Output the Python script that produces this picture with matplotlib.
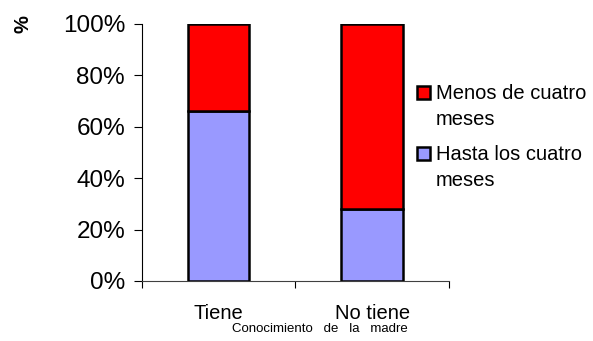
import matplotlib
matplotlib.use("Agg")
import matplotlib.pyplot as plt
from matplotlib.patches import Rectangle
from matplotlib.legend_handler import HandlerPatch
from matplotlib.ticker import FuncFormatter

plt.rcParams["font.family"] = ["Liberation Sans", "DejaVu Sans"]

# data (percent of mothers per group)
categories = ["Tiene", "No tiene"]
hasta_cuatro = [66, 28]
menos_cuatro = [34, 72]
series_labels = ["Menos de cuatro\nmeses", "Hasta los cuatro\nmeses"]
y_ticks = [0, 20, 40, 60, 80, 100]

RED = "#FF0000"
LAVENDER = "#9999FF"


def top_square(legend, orig_handle, xdescent, ydescent, width, height, fontsize):
    # put the legend square next to the first line of the wrapped label
    return Rectangle((-xdescent, -ydescent + 0.7 * fontsize), width, height)


fig = plt.figure(figsize=(5.93, 3.41), dpi=100)
ax = fig.add_axes([0.239, 0.176, 0.518, 0.754])

x = list(range(len(categories)))
b1 = ax.bar(x, hasta_cuatro, width=0.4, color=LAVENDER, edgecolor="black", linewidth=1.8)
b2 = ax.bar(x, menos_cuatro, width=0.4, bottom=hasta_cuatro, color=RED,
            edgecolor="black", linewidth=1.8)

ax.set_xlim(-0.5, len(categories) - 0.5)
ax.set_ylim(0, 100)
ax.set_yticks(y_ticks)
ax.yaxis.set_major_formatter(FuncFormatter(lambda v, p: f"{v:.0f}%"))
ax.tick_params(axis="y", labelsize=17.5, length=6, width=0.8, pad=6)

# ticks at category boundaries, labels at category centres
ax.set_xticks([i - 0.5 for i in range(len(categories) + 1)])
ax.set_xticklabels([])
ax.set_xticks(x, minor=True)
ax.set_xticklabels(categories, minor=True)
ax.tick_params(axis="x", which="major", length=5, width=0.8)
ax.tick_params(axis="x", which="minor", length=0, labelsize=14.5, pad=16.5)

for s in ["top", "right"]:
    ax.spines[s].set_visible(False)
ax.spines["left"].set_linewidth(0.8)
ax.spines["bottom"].set_linewidth(0.8)
ax.spines["bottom"].set_color("#404040")

fig.text(0.54, 0.036, "Conocimiento   de   la   madre", fontsize=9.5, ha="center", va="center")
fig.text(0.038, 0.928, "%", fontsize=14.5, fontweight="bold", rotation=90,
         ha="center", va="center")

h_red = b2.patches[0]
h_lav = b1.patches[0]
leg = ax.legend([h_red, h_lav], series_labels, loc="upper left",
                bbox_to_anchor=(417 / 593, 1 - 84 / 341), bbox_transform=fig.transFigure,
                frameon=False, fontsize=14.5, handlelength=0.65, handleheight=0.65,
                handletextpad=0.3, borderpad=0, borderaxespad=0, labelspacing=0.8,
                handler_map={h_red: HandlerPatch(patch_func=top_square),
                             h_lav: HandlerPatch(patch_func=top_square)})
for t in leg.get_texts():
    t.set_linespacing(1.45)

fig.savefig("out.png", dpi=100)
